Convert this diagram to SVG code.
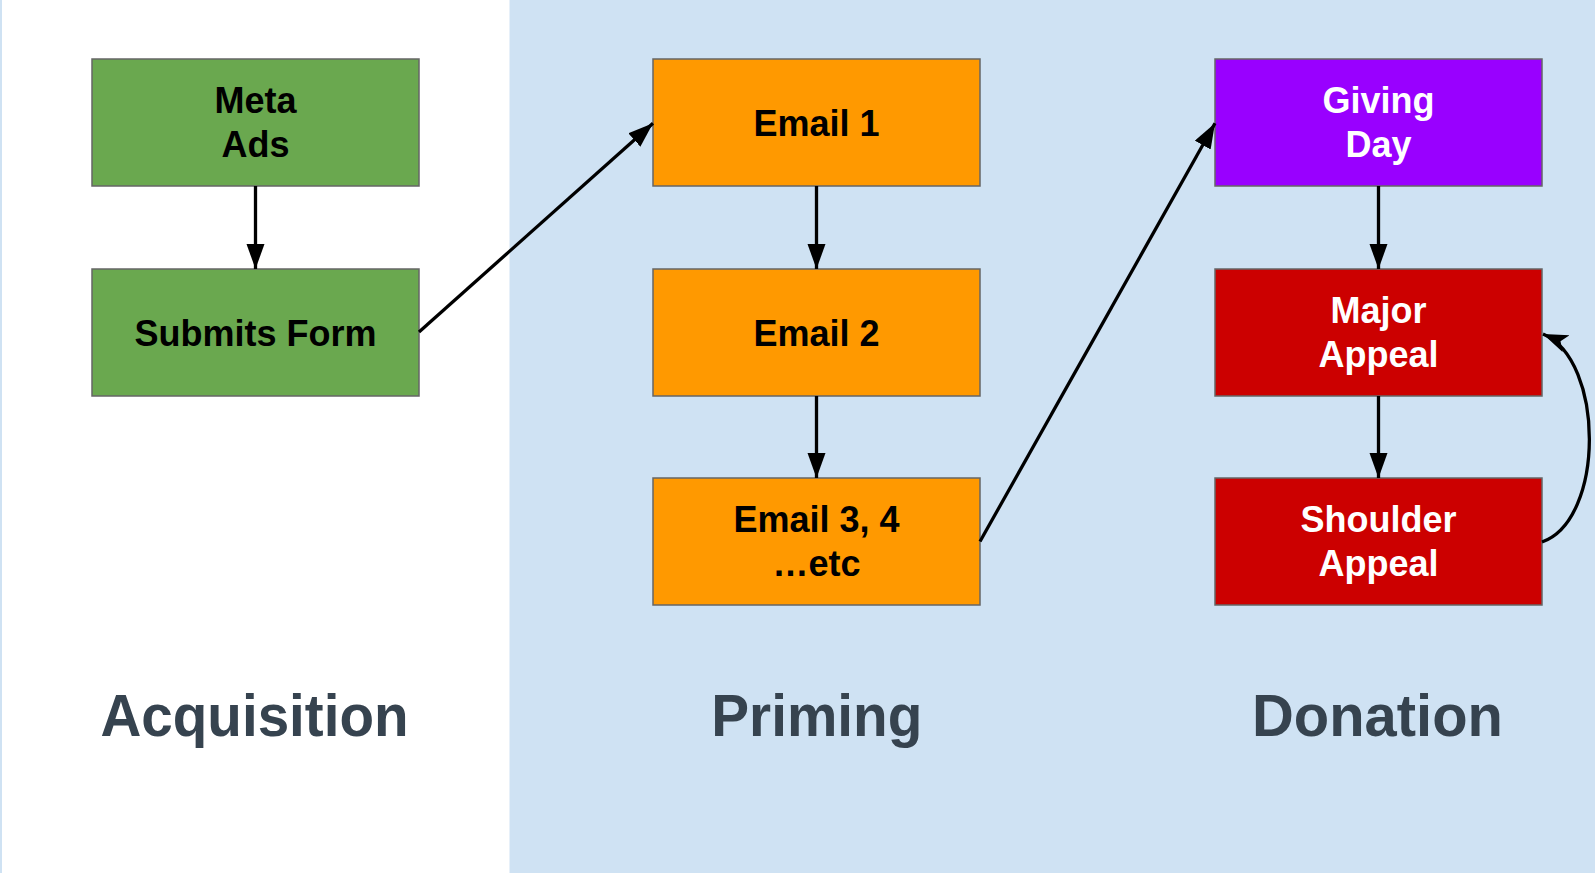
<svg xmlns="http://www.w3.org/2000/svg" width="1595" height="873" viewBox="0 0 1595 873">
<style>
.box{stroke:#666666;stroke-width:1.5}
.t{font-family:"Liberation Sans",Arial,sans-serif;font-weight:bold;font-size:36px;text-anchor:middle}
.lbl{font-family:"Liberation Sans",Arial,sans-serif;font-weight:bold;font-size:59px;text-anchor:middle;fill:#36434f}
.c{fill:none;stroke:#000;stroke-width:3.3}
</style>
<defs>
<marker id="ah" markerUnits="userSpaceOnUse" markerWidth="26" markerHeight="19" refX="25" refY="9" orient="auto">
<path d="M0,0 L25,9 L0,18 z" fill="#000"/>
</marker>
<marker id="ah2" markerUnits="userSpaceOnUse" markerWidth="27" markerHeight="20" refX="25" refY="9" orient="auto">
<path d="M0,0 L25,9 L0,18 L6,9 z" fill="#000"/>
</marker>
</defs>
<rect x="0" y="0" width="1595" height="873" fill="#ffffff"/>
<rect x="0" y="0" width="2" height="873" fill="#cfe2f3"/>
<rect x="509.5" y="0" width="1085.5" height="873" fill="#cfe2f3"/>

<g id="meta-ads">
<rect class="box" x="92" y="59" width="327" height="127" fill="#6aa84f"/>
<text class="t" x="255.5" y="113.3" fill="#000">Meta</text>
<text class="t" x="255.5" y="157.3" fill="#000">Ads</text>
</g>
<g id="submits-form">
<rect class="box" x="92" y="269" width="327" height="127" fill="#6aa84f"/>
<text class="t" x="255.5" y="345.5" fill="#000">Submits Form</text>
</g>
<g id="email-1">
<rect class="box" x="653" y="59" width="327" height="127" fill="#ff9900"/>
<text class="t" x="816.5" y="135.5" fill="#000">Email 1</text>
</g>
<g id="email-2">
<rect class="box" x="653" y="269" width="327" height="127" fill="#ff9900"/>
<text class="t" x="816.5" y="345.5" fill="#000">Email 2</text>
</g>
<g id="email-3">
<rect class="box" x="653" y="478" width="327" height="127" fill="#ff9900"/>
<text class="t" x="816.5" y="532.3" fill="#000">Email 3, 4</text>
<text class="t" x="816.5" y="576.3" fill="#000">…etc</text>
</g>
<g id="giving-day">
<rect class="box" x="1215" y="59" width="327" height="127" fill="#9900ff"/>
<text class="t" x="1378.5" y="113.3" fill="#fff">Giving</text>
<text class="t" x="1378.5" y="157.3" fill="#fff">Day</text>
</g>
<g id="major-appeal">
<rect class="box" x="1215" y="269" width="327" height="127" fill="#cc0000"/>
<text class="t" x="1378.5" y="323.3" fill="#fff">Major</text>
<text class="t" x="1378.5" y="367.3" fill="#fff">Appeal</text>
</g>
<g id="shoulder-appeal">
<rect class="box" x="1215" y="478" width="327" height="127" fill="#cc0000"/>
<text class="t" x="1378.5" y="532.3" fill="#fff">Shoulder</text>
<text class="t" x="1378.5" y="576.3" fill="#fff">Appeal</text>
</g>

<g id="connectors">
<line class="c" x1="255.5" y1="186" x2="255.5" y2="269" marker-end="url(#ah)"/>
<line class="c" x1="419" y1="332" x2="653" y2="123.3" marker-end="url(#ah)"/>
<line class="c" x1="816.5" y1="186" x2="816.5" y2="269" marker-end="url(#ah)"/>
<line class="c" x1="816.5" y1="396" x2="816.5" y2="478" marker-end="url(#ah)"/>
<line class="c" x1="980" y1="541.5" x2="1215" y2="123.3" marker-end="url(#ah)"/>
<line class="c" x1="1378.5" y1="186" x2="1378.5" y2="269" marker-end="url(#ah)"/>
<line class="c" x1="1378.5" y1="396" x2="1378.5" y2="478" marker-end="url(#ah)"/>
<path class="c" d="M1542,542 C1605,520 1605,360 1543,334" marker-end="url(#ah2)"/>
</g>

<g id="labels">
<text class="lbl" x="254.5" y="736" textLength="308" lengthAdjust="spacingAndGlyphs">Acquisition</text>
<text class="lbl" x="816.8" y="736" textLength="211" lengthAdjust="spacingAndGlyphs">Priming</text>
<text class="lbl" x="1377.5" y="736" textLength="251" lengthAdjust="spacingAndGlyphs">Donation</text>
</g>
</svg>
